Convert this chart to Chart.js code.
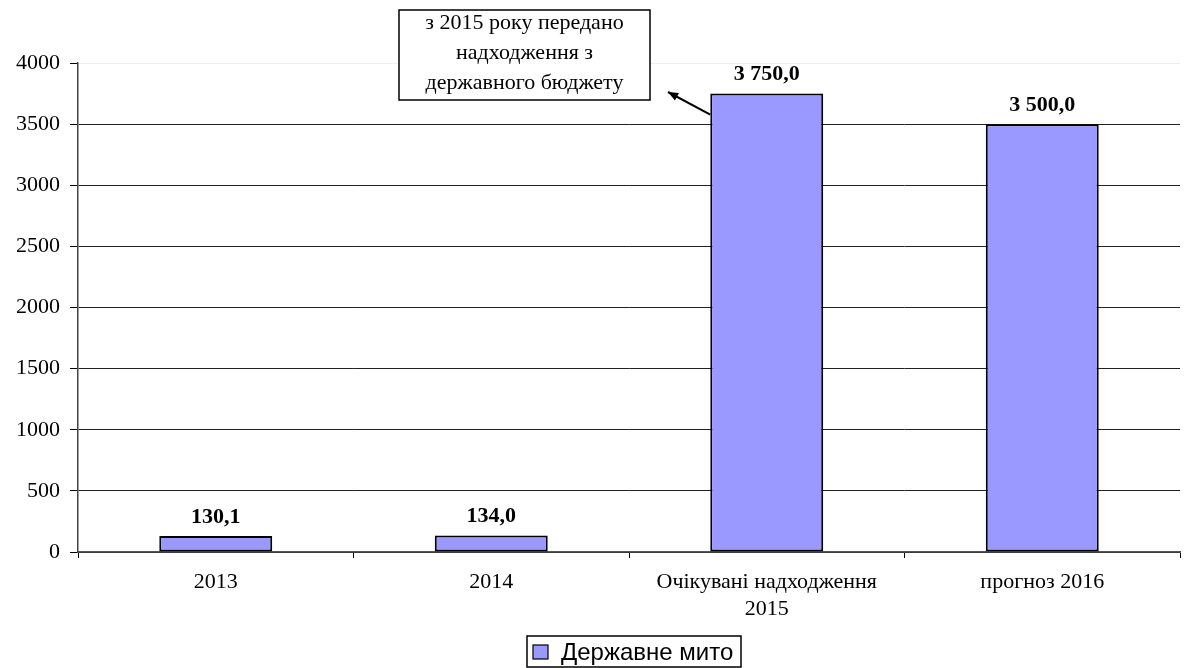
<!DOCTYPE html>
<html>
<head>
<meta charset="utf-8">
<script src="https://cdn.jsdelivr.net/npm/chart.js@4"></script>
<style>
  html, body { margin: 0; padding: 0; background: #fff; }
  #wrap { width: 1188px; height: 668px; }
</style>
</head>
<body>
<div id="wrap"><canvas id="chart"></canvas></div>
<script>
const categories = ['2013', '2014', ['Очікувані надходження', '2015'], 'прогноз 2016']
const dutyValues = [130.1, 134.0, 3750.0, 3500.0]
const dutyLabels = ['130,1', '134,0', '3 750,0', '3 500,0']
const seriesName = 'Державне мито'
const noteLines = ['з 2015 року передано', 'надходження з', 'державного бюджету']

const serif = '"Liberation Serif", "Times New Roman", serif'
const sans = '"Liberation Sans", Arial, sans-serif'

const extras = {
    id: 'extras',
    afterDatasetsDraw(chart) {
        const ctx = chart.ctx
        const bars = chart.getDatasetMeta(0).data
        ctx.save()
        ctx.fillStyle = '#000'
        ctx.font = 'bold 22px ' + serif
        ctx.textAlign = 'center'
        ctx.textBaseline = 'bottom'
        bars.forEach((b, i) => ctx.fillText(dutyLabels[i], b.x, b.y - 8))

        // note box
        const bx = 399, by = 10, bw = 251, bh = 90
        ctx.fillStyle = '#fff'
        ctx.fillRect(bx, by, bw, bh)
        ctx.strokeStyle = '#000'
        ctx.lineWidth = 1.5
        ctx.strokeRect(bx, by, bw, bh)
        ctx.fillStyle = '#000'
        ctx.font = '22px ' + serif
        ctx.textBaseline = 'middle'
        noteLines.forEach((t, i) => ctx.fillText(t, bx + bw / 2, by + 13 + i * 30))

        // arrow from bar 3 to box
        const b = bars[2]
        const x1 = b.x - b.width / 2, y1 = b.y + 21
        const x2 = 668, y2 = 92
        ctx.beginPath()
        ctx.moveTo(x1, y1)
        ctx.lineTo(x2, y2)
        ctx.lineWidth = 2
        ctx.stroke()
        const ang = Math.atan2(y2 - y1, x2 - x1)
        ctx.beginPath()
        ctx.moveTo(x2, y2)
        ctx.lineTo(x2 - 11 * Math.cos(ang - 0.4), y2 - 11 * Math.sin(ang - 0.4))
        ctx.lineTo(x2 - 11 * Math.cos(ang + 0.4), y2 - 11 * Math.sin(ang + 0.4))
        ctx.closePath()
        ctx.fill()

        // legend
        const lx = 527, ly = 636, lw = 214, lh = 31
        ctx.lineWidth = 1.5
        ctx.strokeRect(lx, ly, lw, lh)
        ctx.fillStyle = '#9999ff'
        ctx.fillRect(lx + 6, ly + 9, 15, 14)
        ctx.lineWidth = 1.2
        ctx.strokeRect(lx + 6, ly + 9, 15, 14)
        ctx.fillStyle = '#000'
        ctx.font = '24px ' + sans
        ctx.textAlign = 'left'
        ctx.fillText(seriesName, lx + 34, ly + 17)
        ctx.restore()
    }
}

new Chart(document.getElementById('chart'), {
    type: 'bar',
    data: {
        labels: categories,
        datasets: [{
            label: seriesName,
            data: dutyValues,
            backgroundColor: '#9999ff',
            borderColor: '#000',
            borderWidth: 2,
            borderSkipped: false,
            categoryPercentage: 1,
            barPercentage: 0.41,
        }]
    },
    options: {
        responsive: true,
        maintainAspectRatio: false,
        animation: false,
        layout: { padding: { top: 63, right: 8, left: 0, bottom: 44 } },
        plugins: {
            legend: { display: false },
            tooltip: { enabled: false },
        },
        scales: {
            x: {
                afterFit: s => { s.height = 72 },
                grid: { offset: true, drawOnChartArea: false, color: '#000', tickLength: 6 },
                border: { color: '#555', width: 1.5 },
                ticks: { color: '#000', font: { family: serif, size: 22, lineHeight: 1.25 }, padding: 10, maxRotation: 0 },
            },
            y: {
                afterFit: s => { s.width = 78 },
                min: 0,
                max: 4000,
                ticks: { stepSize: 500, color: '#000', font: { family: serif, size: 22 }, padding: 10, callback: v => String(v) },
                grid: {
                    color: c => c.tick && c.tick.value === 4000 ? '#eeeeee' : '#222',
                    lineWidth: 1,
                    tickLength: 8,
                    tickColor: '#000',
                },
                border: { color: '#444', width: 1.5 },
            }
        }
    },
    plugins: [extras]
})
</script>
</body>
</html>
